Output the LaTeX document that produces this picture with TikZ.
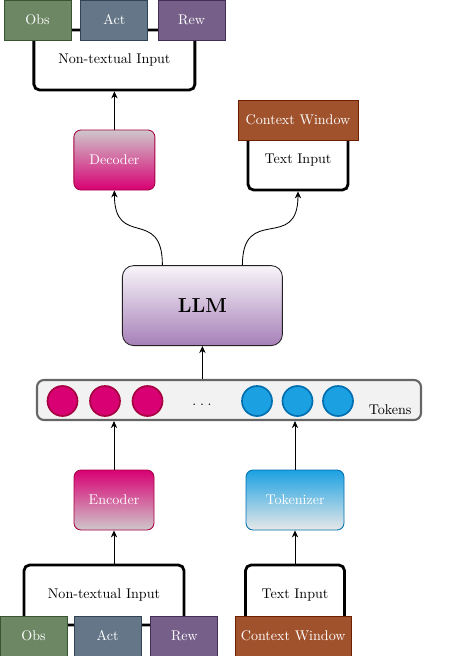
\documentclass[tikz,border=0pt]{standalone}
\usetikzlibrary{arrows.meta}

\definecolor{obsFill}{HTML}{6D8764}
\definecolor{obsLine}{HTML}{3A5431}
\definecolor{actFill}{HTML}{647687}
\definecolor{actLine}{HTML}{314354}
\definecolor{rewFill}{HTML}{76608A}
\definecolor{rewLine}{HTML}{432D57}
\definecolor{ctxFill}{HTML}{A0522D}
\definecolor{ctxLine}{HTML}{6D1F00}
\definecolor{magFill}{HTML}{D80073}
\definecolor{magLine}{HTML}{A50040}
\definecolor{blueFill}{HTML}{1BA1E2}
\definecolor{blueLine}{HTML}{006EAF}
\definecolor{llmTop}{HTML}{F8F5FA}
\definecolor{llmBot}{HTML}{A680B8}
\definecolor{llmLine}{HTML}{222222}
\definecolor{fadeGray}{HTML}{CFC7CB}
\definecolor{fadeBlue}{HTML}{E8E8E8}

\begin{document}
\begin{tikzpicture}[
  inbox/.style={draw, line width=2pt, rounded corners=4pt, fill=white, minimum height=1.5cm},
  tagbox/.style={draw, line width=0.6pt, text=white, minimum height=1cm},
  blockbox/.style={draw, line width=0.6pt, rounded corners=5pt, text=white, minimum height=1.5cm},
  tokdot/.style={circle, line width=1.2pt, minimum size=0.75cm, inner sep=0pt},
  link/.style={-{Stealth[length=5pt,width=4.5pt]}, line width=0.6pt}
]
\useasboundingbox (0,0) rectangle (11.3,-16.4);

% output side
\node[inbox, minimum width=4.025cm] (outNT) at (2.86,-1.5) {Non-textual Input};
\node[tagbox, fill=obsFill, draw=obsLine, minimum width=1.675cm] (outObs) at (0.94,-0.5) {Obs};
\node[tagbox, fill=actFill, draw=actLine, minimum width=1.675cm] (outAct) at (2.86,-0.5) {Act};
\node[tagbox, fill=rewFill, draw=rewLine, minimum width=1.675cm] (outRew) at (4.79,-0.5) {Rew};

\node[inbox, minimum width=2.5cm] (outText) at (7.45,-4.0) {Text Input};
\node[tagbox, fill=ctxFill, draw=ctxLine, minimum width=3cm] (outCtx) at (7.45,-3.0) {Context Window};

\node[blockbox, minimum width=2.025cm, top color=fadeGray, bottom color=magFill, draw=magLine] (dec) at (2.86,-4.0) {Decoder};

% model
\node[draw=llmLine, line width=0.6pt, rounded corners=8pt, minimum width=4cm, minimum height=2cm,
  top color=llmTop, bottom color=llmBot] (llm) at (5.06,-7.64) {\Large\bfseries LLM};

% token row
\node[draw=black!60, fill=black!5, line width=1.5pt, rounded corners=5pt,
  minimum width=9.6cm, minimum height=1cm] (tokens) at (5.725,-10.0) {};
\node[anchor=south east, xshift=-4pt, yshift=1pt] (tokLabel) at (tokens.south east) {Tokens};
\foreach \x [count=\i] in {1.5625, 2.625, 3.6875}
  \node[tokdot, fill=magFill, draw=magLine] (m\i) at (\x,-10.025) {};
\foreach \x [count=\i] in {6.425, 7.4375, 8.45}
  \node[tokdot, fill=blueFill, draw=blueLine] (b\i) at (\x,-10.025) {};
\node[anchor=base] (gap) at (5.05,-10.13) {.\kern2.6pt.\kern2.6pt.};

% input side
\node[blockbox, minimum width=2cm, top color=magFill, bottom color=fadeGray, draw=magLine] (enc) at (2.85,-12.5) {Encoder};
\node[blockbox, minimum width=2.45cm, top color=blueFill, bottom color=fadeBlue, draw=blueLine] (tkz) at (7.375,-12.5) {Tokenizer};

\node[inbox, minimum width=4cm] (inNT) at (2.6,-14.875) {Non-textual Input};
\node[tagbox, fill=obsFill, draw=obsLine, minimum width=1.675cm] (inObs) at (0.84,-15.9) {Obs};
\node[tagbox, fill=actFill, draw=actLine, minimum width=1.675cm] (inAct) at (2.69,-15.9) {Act};
\node[tagbox, fill=rewFill, draw=rewLine, minimum width=1.675cm] (inRew) at (4.61,-15.9) {Rew};

\node[inbox, minimum width=2.475cm] (inText) at (7.375,-14.875) {Text Input};
\node[tagbox, fill=ctxFill, draw=ctxLine, minimum width=2.9cm] (inCtx) at (7.33,-15.9) {Context Window};

% connectors
\draw[link] (enc.north |- inNT.north) -- (enc.south);
\draw[link] (inText.north) -- (tkz.south);
\draw[link] (enc.north) -- (enc.north |- tokens.south);
\draw[link] (tkz.north) -- (tkz.north |- tokens.south);
\draw[link] (llm.north |- tokens.north) -- (llm.south);
\draw[link] ([xshift=-1cm]llm.north) to[out=90, in=-90, looseness=1.7] (dec.south);
\draw[link] ([xshift=1cm]llm.north) to[out=90, in=-90, looseness=1.7] (outText.south);
\draw[link] (dec.north) -- (dec.north |- outNT.south);

\end{tikzpicture}
\end{document}
